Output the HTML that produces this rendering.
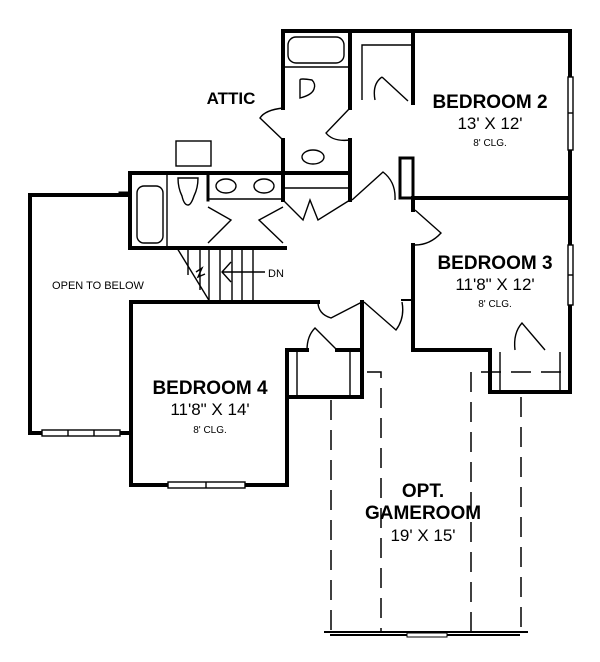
<!DOCTYPE html>
<html><head><meta charset="utf-8"><style>
html,body{margin:0;padding:0;background:#fff;}
svg{display:block;font-family:"Liberation Sans",Arial,sans-serif;}
.w{stroke:#000;stroke-width:4;fill:none;stroke-linecap:square}
.t{stroke:#000;stroke-width:1.4;fill:none}
.win{stroke:#000;stroke-width:1.4;fill:#fff}
.d{stroke:#000;stroke-width:1.5;fill:none;stroke-dasharray:20 10}
.b{font-weight:bold;font-size:19px;text-anchor:middle}
.n{font-size:17px;text-anchor:middle}
.s{font-size:10px;text-anchor:middle}
</style></head><body>
<svg width="600" height="662" viewBox="0 0 600 662">
<path class="w" d="M283 108 V31 H570 V392 H490 V350"/>
<path class="w" d="M283 140 V200"/>
<path class="w" d="M350 31 V108 M350 140 V200"/>
<path class="w" d="M413 31 V103"/>
<rect x="400" y="158" width="13" height="40" class="w" style="stroke-width:3"/>
<path class="w" d="M413 198 H570"/>
<path class="w" d="M413 198 V210 M413 245 V350 H490"/>
<rect x="288" y="37" width="56" height="26" rx="8" class="t"/>
<path class="t" d="M285 67 H348"/>
<path class="t" d="M300 80 Q300 78 312 80 Q316 84 314 89 Q312 95 300 98 Z"/>
<path class="t" d="M285 172 H348 M285 188 H348"/>
<ellipse cx="313" cy="157" rx="11" ry="7" class="t"/>
<path class="t" d="M362 100 V45 H411"/>
<path class="t" d="M382 77 L408 101 M382 77 Q372 84 375 100"/>
<path class="t" d="M283 140 L260 118 Q265 110 283 108"/>
<path class="t" d="M350 108 L326 133 Q333 142 350 140"/>
<path class="w" d="M130 248 V173 H350"/>
<path class="w" d="M120 193 H130" style="stroke-width:3"/>
<path class="w" d="M130 248 H285"/>
<path class="t" d="M167 175 V246"/>
<rect x="137" y="186" width="26" height="57" rx="7" class="t"/>
<path class="t" d="M178 178 H198 Q198 188 194 196 Q191 205 188 205 Q184 205 182 196 Q178 188 178 178 Z"/>
<path class="w" d="M208 175 V200" style="stroke-width:3"/>
<path class="t" d="M208 199 H283"/>
<ellipse cx="226" cy="186" rx="10" ry="7" class="t"/>
<ellipse cx="264" cy="186" rx="10" ry="7" class="t"/>
<path class="t" d="M208 207 L231 220 L208 243 M283 207 L259 220 L283 243"/>
<rect x="176" y="141" width="35" height="25" class="t"/>
<path class="t" d="M283 200 L303 220 L310 200 L318 220 L350 200"/>
<path class="t" d="M352 200 L383 172 Q396 182 395 200"/>
<path class="t" d="M415 210 L441 233 Q430 245 415 245"/>
<path class="t" d="M177 248 L210 302"/>
<path class="t" d="M188 248 V275 M200 248 V290 M209 248 V302 M220 248 V302 M232 248 V302 M242 248 V302 M253 248 V302"/>
<path class="t" d="M196 272 L202 268 L198 277 L205 274"/>
<path class="t" d="M265 272 H222 M231 262 L222 272 L231 282"/>
<text x="268" y="277" font-size="11">DN</text>
<path class="w" d="M130 195 H30 V433 H130"/>
<rect x="42" y="430" width="78" height="6" class="win"/>
<path class="t" d="M68 430 V436 M94 430 V436"/>
<text x="98" y="289" font-size="11" text-anchor="middle">OPEN TO BELOW</text>
<path class="w" d="M318 302 H131 V485 H287 V350"/>
<rect x="168" y="482" width="77" height="6" class="win"/>
<path class="t" d="M206 482 V488"/>
<path class="w" d="M287 350 H307 M337 350 H362 M287 397 H362 M362 302 V397"/>
<path class="t" d="M297 352 V395 M350 352 V395"/>
<path class="t" d="M337 350 L315 328 Q307 336 307 350"/>
<path class="t" d="M318 302 Q318 314 331 318 L362 302"/>
<path class="t" d="M364 302 L396 330 Q405 318 402 302"/>
<path class="w" d="M413 300 V350" style="stroke-width:3"/>
<path class="w" d="M402 300 H413" style="stroke-width:2"/>
<path class="t" d="M500 352 V390 M560 352 V390"/>
<path class="t" d="M545 350 L522 323 Q513 333 515 350"/>
<rect x="568" y="77" width="5" height="73" class="win"/>
<path class="t" d="M568 113 H573"/>
<rect x="568" y="245" width="5" height="60" class="win"/>
<path class="t" d="M568 275 H573"/>
<path class="d" d="M331 400 V632"/>
<path class="d" d="M367 372 H381 V632" />
<path class="d" d="M471 632 V372 H565"/>
<path class="d" d="M521 397 V632"/>
<path d="M324 632 H528" stroke="#000" stroke-width="2"/>
<path d="M330 635 H520" stroke="#000" stroke-width="2"/>
<rect x="407" y="633" width="40" height="4" fill="#fff" stroke="#000" stroke-width="1"/>
<text x="231" y="104" class="b" style="font-size:17px">ATTIC</text>
<text x="490" y="108" class="b">BEDROOM 2</text>
<text x="490" y="129" class="n">13' X 12'</text>
<text x="490" y="146" class="s">8' CLG.</text>
<text x="495" y="269" class="b">BEDROOM 3</text>
<text x="495" y="290" class="n">11'8" X 12'</text>
<text x="495" y="307" class="s">8' CLG.</text>
<text x="210" y="394" class="b">BEDROOM 4</text>
<text x="210" y="415" class="n">11'8" X 14'</text>
<text x="210" y="433" class="s">8' CLG.</text>
<text x="423" y="497" class="b">OPT.</text>
<text x="423" y="519" class="b">GAMEROOM</text>
<text x="423" y="541" class="n">19' X 15'</text>
</svg>
</body></html>
